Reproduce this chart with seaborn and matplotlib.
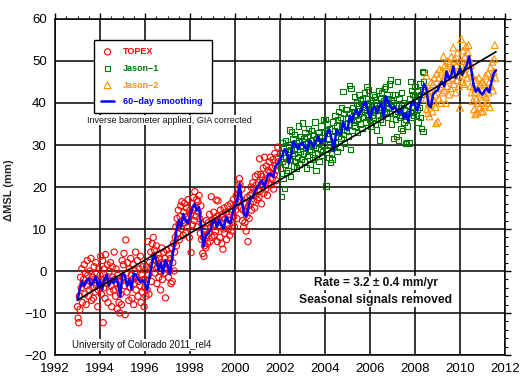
import numpy as np
import matplotlib
matplotlib.use("Agg")
import matplotlib.pyplot as plt
from matplotlib.ticker import MultipleLocator
import seaborn as sns

# one altimeter cycle is ~9.9156 days; scatter points are one value per cycle
CYCLE_YEARS = 9.9156 / 365.25

# TOPEX/Poseidon, one row per year starting 1993.0 (mm)
topex_start = 1993.0
topex_msl = [
    -8.5, -11.2, -12.3, -6.0, -9.2, -1.5, -4.0, 0.5, -7.5, -3.0, -2.0, 1.5, -5.5, -0.5, -8.0, -3.5, 2.5, -1.0, -6.0, -4.5, 0.0, -2.5, 3.0, -7.0, -1.5, -4.0, -6.5, 1.0, -2.0, -5.0, 2.0, -3.5, -0.5, -8.5, -4.5, 0.5, -2.5,
    -1.0, 3.5, -5.5, -2.0, 2.5, -12.3, -4.0, 0.5, -6.5, 3.9, -1.5, -3.0, 1.5, -7.5, -2.5, 0.0, -5.0, 2.0, -3.5, -8.5, 1.0, -1.5, -4.5, 4.5, -2.0, -6.0, 0.5, -3.0, -9.0, -1.0, -4.0, -7.5, -10.0, -5.5, -2.5, -8.0, 2.5,
    -1.5, 1.5, 4.2, -3.5, -10.4, 7.4, -0.5, -5.0, 2.0, -2.5, -7.0, 0.5, -4.0, 3.0, -1.0, -6.5, -2.0, 1.5, -8.0, -3.0, 0.0, 4.5, -4.5, -1.5, 2.5, -6.0, -2.5, 0.5, -3.5, 3.5, -7.5, -1.0, -5.0, 1.0, -2.0, -8.5, -4.0,
    -2.0, -6.0, 1.0, -4.5, 7.0, -1.0, -5.5, 2.0, 0.5, 4.5, -2.5, 6.5, 1.5, 8.0, 3.5, 5.0, -0.5, 2.5, 6.0, -3.0, 1.0, 4.0, -1.5, 3.0, 0.0, -4.5, 2.0, 5.5, -2.0, 1.5, 4.5, -0.5, 3.0, -6.4, 0.5, 5.0, 2.0,
    1.5, -1.5, 4.0, 0.0, 3.0, -3.0, 5.5, -2.5, 2.0, 6.5, 0.0, 4.5, 8.0, 10.5, 6.0, 12.5, 9.0, 14.5, 11.0, 7.5, 13.0, 15.5, 10.0, 16.5, 12.0, 8.5, 14.0, 16.1, 11.5, 9.0, 15.0, 13.0, 10.5, 17.0, 12.5, 8.0, 14.5,
    13.5, 4.4, 16.0, 11.0, 14.5, 17.5, 12.0, 18.9, 15.0, 13.0, 17.0, 10.5, 16.5, 14.0, 18.0, 12.5, 9.0, 15.5, 7.5, 11.0, 4.2, 8.0, 3.5, 6.0, 10.0, 5.5, 12.0, 8.5, 6.5, 11.5, 9.0, 13.5, 7.0, 10.5, 17.7, 8.0, 12.0,
    11.0, 14.0, 8.5, 12.5, 9.5, 16.9, 13.0, 7.0, 16.7, 10.5, 12.0, 8.0, 14.5, 11.5, 6.5, 13.5, 5.2, 10.0, 15.0, 9.0, 12.5, 14.0, 7.5, 11.0, 15.5, 10.0, 13.5, 8.5, 12.0, 16.0, 9.5, 14.0, 11.5, 17.0, 13.0, 10.5, 15.5,
    14.5, 18.0, 12.5, 16.5, 20.5, 18.5, 22.0, 20.7, 17.0, 15.0, 19.5, 12.0, 14.5, 10.5, 16.0, 11.5, 14.0, 9.5, 13.0, 17.5, 7.0, 15.5, 12.5, 18.0, 16.0, 20.0, 14.5, 18.5, 21.0, 16.5, 19.5, 15.0, 22.5, 18.0, 20.5, 17.0, 23.0,
    21.0, 17.5, 26.7, 19.0, 23.0, 16.0, 22.5, 20.0, 24.5, 18.5, 27.1, 21.5, 19.5, 25.0, 22.0, 18.0, 24.0, 21.0, 26.0, 23.5, 27.1, 20.5, 24.5, 22.0, 26.5, 19.5, 23.0, 28.0, 25.0, 21.5, 27.0, 24.0, 29.5, 26.0,
]

# Jason-1, starting 2002.0
jason1_start = 2002.0
jason1_msl = [
    28.0, 24.5, 17.7, 30.5, 26.0, 22.0, 29.5, 19.7, 25.5, 31.0, 27.0, 23.5, 28.5, 24.0, 30.0, 26.5, 33.6, 22.5, 29.0, 33.2, 27.5, 31.5, 25.0, 28.0, 32.5, 26.0, 30.5, 24.5, 29.0, 27.0, 34.5, 31.0, 25.5, 28.5, 32.0, 26.5, 30.0,
    35.2, 28.0, 31.5, 26.0, 33.0, 29.5, 24.5, 32.0, 27.5, 30.5, 34.0, 28.5, 25.5, 31.0, 29.0, 33.5, 26.5, 30.0, 32.5, 27.0, 35.5, 29.5, 24.0, 31.5, 28.0, 33.0, 30.5, 26.0, 32.0, 29.0, 34.5, 27.5, 31.0, 28.5, 36.1, 30.0, 33.0,
    36.1, 20.2, 33.5, 29.0, 35.0, 31.5, 27.0, 34.0, 30.0, 25.8, 28.0, 26.5, 32.0, 35.5, 29.5, 33.5, 37.0, 30.5, 34.5, 28.5, 36.0, 32.0, 38.0, 33.0, 29.5, 36.5, 31.5, 39.0, 34.5, 42.7, 32.5, 37.5, 30.5, 35.0, 38.5, 33.5, 36.5,
    35.0, 32.0, 37.5, 44.1, 28.9, 43.5, 36.0, 33.5, 39.0, 35.5, 38.0, 41.5, 34.5, 37.0, 40.0, 36.0, 33.0, 39.5, 42.0, 37.5, 35.0, 40.5, 38.0, 34.0, 41.0, 39.0, 36.5, 42.5, 38.5, 35.5, 41.0, 44.0, 39.5, 37.0, 43.1, 36.0, 40.0,
    38.0, 34.5, 40.5, 37.0, 42.0, 36.5, 39.5, 41.5, 35.0, 38.5, 33.6, 40.0, 37.0, 43.0, 39.0, 31.2, 41.0, 36.0, 42.5, 38.5, 35.5, 40.5, 37.5, 43.5, 40.0, 44.0, 38.0, 42.0, 36.5, 41.0, 39.0, 44.5, 37.5, 45.5, 40.5, 35.0, 42.0,
    40.0, 31.6, 37.5, 42.0, 36.0, 39.5, 32.0, 45.1, 38.0, 31.2, 41.0, 36.5, 39.0, 34.0, 42.5, 37.0, 33.5, 40.0, 35.5, 38.5, 30.4, 36.0, 30.5, 39.5, 34.5, 37.5, 30.5, 41.0, 38.0, 45.1, 36.5, 43.0, 39.0, 42.0, 37.0, 41.5, 44.0,
    40.5, 37.0, 43.0, 38.5, 35.5, 41.5, 39.0, 44.5, 36.5, 42.0, 33.9, 47.5, 33.2, 45.0, 47.2,
]

# Jason-2, starting mid 2008
jason2_start = 2008.45
jason2_msl = [
    44.0, 41.0, 46.5, 38.5, 42.5, 37.6, 40.0, 36.8, 43.0, 39.5, 45.0, 41.5, 38.0, 44.5, 40.5, 46.0, 42.0, 39.0, 35.2, 47.0,
    43.5, 35.6, 46.0, 41.0, 48.0, 44.5, 40.0, 47.5, 42.5, 45.5, 51.1, 43.0, 49.0, 46.5, 40.0, 48.5, 44.0, 50.0, 45.5, 42.0, 49.5, 47.0, 43.5, 51.0, 46.0, 48.5, 53.2, 44.5, 50.5, 47.5, 42.5, 49.0, 45.5, 52.0, 46.5, 44.0, 50.0,
    38.9, 47.5, 55.2, 50.0, 45.0, 52.5, 48.0, 44.5, 51.0, 47.0, 53.5, 49.5, 46.0, 52.0, 53.8, 50.5, 47.5, 44.0, 49.0, 42.5, 46.5, 40.5, 44.0, 38.5, 42.5, 37.3, 45.5, 41.0, 37.7, 43.5, 40.0, 46.0, 39.0, 44.5, 41.5, 38.0, 43.0,
    45.0, 38.0, 42.0, 44.5, 39.5, 46.5, 41.5, 43.5, 40.0, 47.0, 42.5, 45.0, 39.0, 48.5, 44.0, 46.0, 49.8, 43.0, 47.5, 50.5, 53.8, 46.0,
]

# 60-day smoothed curve, read every 0.1 yr from 1993.0
smooth_start = 1993.0
smooth_msl = [
    -6.9, -4.4, -2.5, -3.5, -2.2, -1.8, -3.4, -2.6, -1.3, -3.7,
    -2.2, -4.4, -2.0, -0.9, -3.5, -1.8, -2.9, -1.4, -3.0, -6.2,
    -0.5, -1.0, -3.5, -2.0, -4.4, -0.6, -1.0, -2.0, -2.6, -2.2,
    -3.0, -4.5, -1.3, 1.5, 4.0, 2.5, 0.2, 2.0, -0.6, 2.6,
    1.5, -0.8, 3.0, 6.0, 9.8, 12.1, 10.5, 13.6, 12.0, 11.3,
    12.9, 15.0, 16.0, 14.4, 15.2, 10.5, 5.8, 8.5, 8.9, 9.7,
    11.5, 12.1, 10.5, 12.3, 11.0, 10.2, 12.9, 12.0, 11.3, 14.0,
    15.5, 16.8, 20.7, 17.0, 13.6, 12.9, 15.3, 17.6, 17.5, 19.3,
    20.0, 21.0, 21.6, 20.0, 21.8, 23.2, 23.0, 22.4, 25.0, 25.6,
    26.5, 27.5, 29.0, 28.5, 25.6, 27.5, 30.8, 30.0, 29.0, 30.2,
    30.5, 29.5, 28.8, 31.0, 30.4, 29.5, 31.0, 32.0, 30.4, 31.2,
    31.0, 33.0, 33.6, 31.2, 28.5, 33.5, 33.0, 32.5, 35.5, 34.0,
    33.5, 37.0, 35.5, 37.5, 38.4, 37.0, 38.0, 39.5, 40.3, 38.0,
    36.4, 38.5, 39.2, 37.5, 39.0, 40.0, 36.8, 41.6, 40.5, 39.0,
    38.5, 39.2, 38.0, 37.6, 38.5, 36.4, 37.5, 35.7, 39.0, 40.5,
    39.5, 38.2, 40.0, 42.0, 44.5, 43.5, 39.5, 39.0, 42.0, 42.7,
    43.0, 44.3, 45.1, 44.0, 47.5, 45.9, 46.5, 48.7, 46.0, 47.0,
    48.3, 46.7, 48.0, 49.0, 51.1, 48.0, 44.3, 42.7, 43.5, 42.5,
    42.0, 43.0, 43.5, 42.5, 45.1, 47.1, 47.8,
]
SMOOTH_STEP = 0.1

# linear trend (3.2 mm/yr) end points
trend_years = [1993.0, 2011.6]
trend_msl = [-6.9, 52.2]

x_ticks = list(range(1992, 2013, 2))
y_ticks = list(range(-20, 61, 10))

RED, GREEN, ORANGE, BLUE = "#FF0000", "#007A00", "#FF9000", "#0000FF"


def cycle_years(start, values, step=CYCLE_YEARS):
    return start + step * np.arange(len(values))


sns.set_style("white")
plt.rcParams["font.family"] = ["Liberation Sans", "DejaVu Sans"]

fig = plt.figure(figsize=(5.2, 3.9), dpi=100)
ax = fig.add_axes([0.1058, 0.0897, 0.8654, 0.8616])

# the three missions as hollow markers
for start, values, marker, size, color, name in [
    (topex_start, topex_msl, "o", 20, RED, "TOPEX"),
    (jason1_start, jason1_msl, "s", 15, GREEN, "Jason\u22121"),
    (jason2_start, jason2_msl, "^", 24, ORANGE, "Jason\u22122"),
]:
    sns.scatterplot(
        x=cycle_years(start, values), y=values, ax=ax,
        marker=marker, s=size, facecolor="none", edgecolor=color,
        linewidth=0.8, label=name, zorder=3,
    )

sns.lineplot(
    x=cycle_years(smooth_start, smooth_msl, SMOOTH_STEP), y=smooth_msl, ax=ax,
    color=BLUE, linewidth=1.8, estimator=None, sort=False,
    label="60\u2212day smoothing", zorder=4,
)
sns.lineplot(
    x=trend_years, y=trend_msl, ax=ax, color="black", linewidth=1.2,
    estimator=None, legend=False, zorder=5,
)

ax.set_xlim(1992, 2012)
ax.set_ylim(-20, 60)
ax.set_xticks(x_ticks)
ax.set_yticks(y_ticks)
ax.xaxis.set_minor_locator(MultipleLocator(0.5))
ax.yaxis.set_minor_locator(MultipleLocator(2))
ax.tick_params(which="both", direction="out", top=True, right=True,
               colors="black", labelsize=9.5, pad=2)
ax.tick_params(which="major", length=4, width=1)
ax.tick_params(which="minor", length=2.5, width=0.8)
ax.grid(True, which="major", color="black", linewidth=1.1)
ax.set_axisbelow(True)
for spine in ax.spines.values():
    spine.set_color("black")
    spine.set_linewidth(1.1)

ax.set_xlabel("")
ax.set_ylabel("\u0394MSL (mm)", fontsize=8, fontweight="bold")
ax.yaxis.set_label_coords(-0.092, 0.49)

leg = ax.legend(
    loc="upper left", bbox_to_anchor=(0.0867, 0.72, 0.262, 0.2175),
    mode="expand", borderaxespad=0, fancybox=False, framealpha=1,
    edgecolor="black", prop={"size": 6.5, "weight": "bold"},
    handlelength=1.4, handletextpad=1.0, labelspacing=0.85,
    borderpad=0.8, scatterpoints=1,
)
leg.get_frame().set_linewidth(1.0)
for text, color in zip(leg.get_texts(), [RED, GREEN, ORANGE, BLUE]):
    text.set_color(color)

box = dict(facecolor="white", edgecolor="none", pad=0.5)
ax.text(0.254, 0.699, "Inverse barometer applied, GIA corrected",
        transform=ax.transAxes, ha="center", va="center", fontsize=6.5,
        color="#111111", bbox=box, zorder=6)
ax.text(0.038, 0.030, "University of Colorado 2011_rel4",
        transform=ax.transAxes, ha="left", va="center", fontsize=6.9,
        color="#111111", bbox=box, zorder=6)
ax.text(0.713, 0.214, "Rate = 3.2 \u00b1 0.4 mm/yr",
        transform=ax.transAxes, ha="center", va="center", fontsize=8.6,
        fontweight="bold", color="#111111", bbox=box, zorder=6)
ax.text(0.713, 0.164, "Seasonal signals removed",
        transform=ax.transAxes, ha="center", va="center", fontsize=8.7,
        fontweight="bold", color="#111111", bbox=box, zorder=6)

fig.savefig("out.png", dpi=100)
